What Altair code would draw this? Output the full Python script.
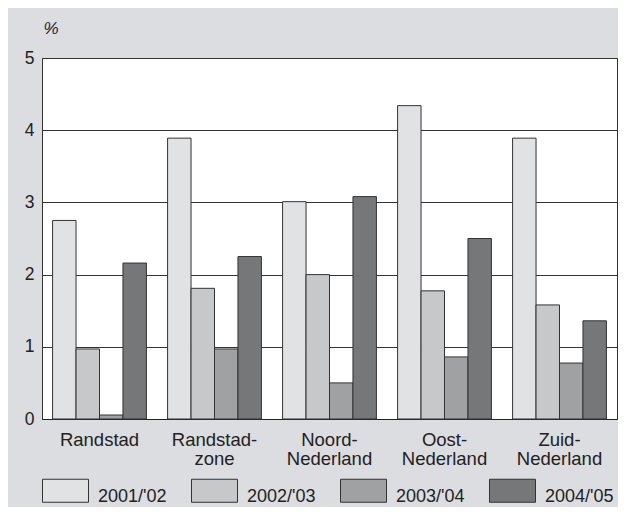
import altair as alt
import pandas as pd

regions = ["Randstad", "Randstad-\nzone", "Noord-\nNederland", "Oost-\nNederland", "Zuid-\nNederland"]
years = ["2001/'02", "2002/'03", "2003/'04", "2004/'05"]
y2001 = [2.75, 3.89, 3.01, 4.34, 3.89]
y2002 = [0.97, 1.81, 2.00, 1.775, 1.58]
y2003 = [0.055, 0.97, 0.50, 0.86, 0.775]
y2004 = [2.16, 2.25, 3.08, 2.50, 1.36]
colors = ["#e1e2e4", "#c7c8ca", "#a0a1a3", "#767779"]

rows = []
for yr, vals in zip(years, [y2001, y2002, y2003, y2004]):
    for r, v in zip(regions, vals):
        rows.append({"gebied": r, "jaar": yr, "waarde": v})
df = pd.DataFrame(rows)

FONT = "Liberation Sans"

chart = alt.Chart(df).mark_bar(stroke="#333333", strokeWidth=1).encode(
    x=alt.X("gebied:N", sort=regions,
            scale=alt.Scale(paddingInner=0.184, paddingOuter=0.092),
            axis=alt.Axis(title=None, labelAngle=0, labelFont=FONT, labelFontSize=18.5,
                          labelColor="#222222", labelPadding=11, labelLineHeight=19,
                          labelExpr="split(datum.label, '\\n')",
                          ticks=False, domain=True, domainColor="#222222", grid=False)),
    xOffset=alt.XOffset("jaar:N", sort=years),
    y=alt.Y("waarde:Q", scale=alt.Scale(domain=[0, 5], nice=False),
            axis=alt.Axis(title="%", titleAngle=0, titleFont=FONT, titleFontSize=17,
                          titleFontStyle="italic", titleFontWeight="normal",
                          titleColor="#222222", titleX=1, titleY=-25, titleAlign="left",
                          titleBaseline="alphabetic",
                          values=[0, 1, 2, 3, 4, 5], format="d",
                          labelFont=FONT, labelFontSize=17.5, labelColor="#222222",
                          labelPadding=8, ticks=False, domain=False,
                          grid=True, gridColor="#333333", gridWidth=1, gridOpacity=1)),
    fill=alt.Fill("jaar:N", sort=years,
                  scale=alt.Scale(domain=years, range=colors),
                  legend=alt.Legend(title=None, orient="none", direction="horizontal",
                                    legendX=0, legendY=420.5, columns=4,
                                    symbolType="M-1,-1H1V0H-1Z", symbolSize=2116,
                                    symbolStrokeColor="#333333", symbolStrokeWidth=1,
                                    symbolOpacity=1,
                                    labelFont=FONT, labelFontSize=18, labelColor="#222222",
                                    labelOffset=9, labelBaseline="alphabetic",
                                    columnPadding=22, padding=0)),
).properties(
    width=575,
    height=361,
    background="#dcdde0",
    padding={"left": 34, "top": 50, "right": 1, "bottom": 88},
    autosize=alt.AutoSizeParams(type="none"),
).configure_view(
    stroke="#333333", strokeWidth=1, fill="white"
)

chart.save("out.html", embed_options={"renderer": "svg", "actions": False})
